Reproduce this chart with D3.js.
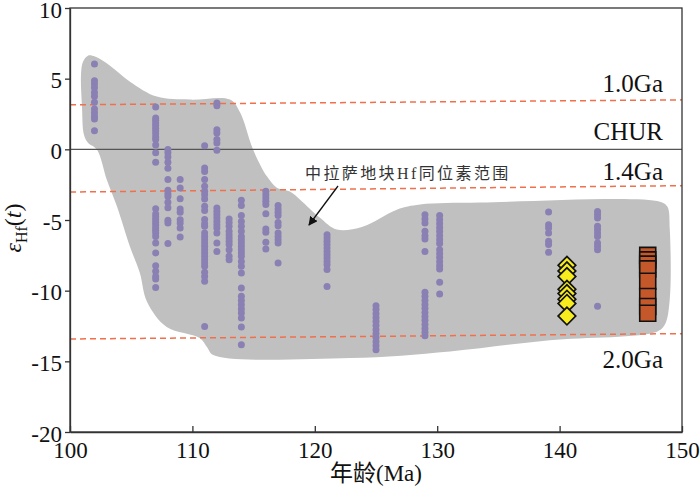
<!DOCTYPE html>
<html>
  <head>
    <meta charset="utf-8">
    <script src="https://cdnjs.cloudflare.com/ajax/libs/d3/7.8.5/d3.min.js"></script>
    <style>
      body { margin: 0; background: #fff; }
      svg { display: block; font-family: 'Liberation Serif', 'Noto Sans CJK SC', serif; }
      .axis path, .axis line { stroke: #333; stroke-width: 1.3; }
      .axis text { fill: #111; font-size: 23px; font-family: 'Liberation Serif', serif; }
    </style>
  </head>
  <body>
    <svg id="chart"></svg>

    <script>
      // tick values
      const xTicks = [100, 110, 120, 130, 140, 150];
      const yTicks = [-20, -15, -10, -5, 0, 5, 10];

      // zircon columns: age (Ma) and eHf(t) values
      const colAges = [102, 107, 108, 109, 111, 112, 113, 114, 116, 117, 121, 125, 129, 130.2, 139.1, 143.1];
      const colValues = [
        [6.04, 4.86, 4.63, 4.35, 4.03, 3.75, 3.33, 2.86, 2.58, 2.34, 2.15, 1.32],
        [3.0, 2.22, 2.05, 1.87, 1.68, 1.49, 1.3, 1.11, 0.88, 0.69, 0.31, -0.25, -0.92,
         -4.2, -4.57, -4.78, -4.98, -5.17, -5.35, -5.54, -5.73, -5.92, -6.16, -6.63, -7.33, -8.23, -8.63, -8.99, -9.17, -9.77],
        [-0.02, -0.25, -0.54, -0.92, -1.34, -2.14, -2.9, -3.14, -3.33, -3.75, -4.13, -5.02, -5.21, -6.67],
        [-2.14, -2.73, -3.49, -4.22, -4.46, -4.98, -5.21, -5.56, -6.2],
        [0.26, -1.32, -1.56, -2.14, -2.62, -2.97, -3.21, -3.51, -4.03, -4.32, -4.97, -5.26, -5.45, -5.92, -6.16, -6.39,
         -6.62, -6.86, -7.1, -7.33, -7.57, -7.81, -8.04, -8.28, -8.7, -8.99, -9.34, -12.53],
        [3.28, 3.09, 1.39, 1.16, 0.69, 0.45, -0.07, -4.15, -4.39, -4.62, -4.86, -5.1, -5.33, -5.56, -5.92, -6.62, -7.22],
        [-4.93, -5.17, -5.45, -5.8, -6.04, -6.27, -6.51, -6.74, -7.1, -7.57, -7.81],
        [-3.61, -3.98, -4.69, -5.1, -5.45, -5.8, -6.16, -6.39, -6.62, -6.86, -7.1, -7.33, -7.57, -7.93, -8.28, -8.75,
         -9.81, -10.4, -10.69, -10.99, -11.3, -11.58, -11.94, -12.57, -13.82],
        [-2.97, -3.21, -3.44, -3.68, -3.91, -4.55, -5.63, -5.87, -6.58, -7.05],
        [-3.98, -4.22, -4.46, -4.69, -5.17, -5.4, -5.92, -6.16, -6.39, -6.62, -8.04],
        [-6.04, -6.27, -6.51, -6.74, -6.98, -7.22, -7.45, -7.69, -7.93, -8.16, -8.51, -9.7],
        [-11.06, -11.34, -11.63, -11.91, -12.19, -12.47, -12.76, -13.04, -13.32, -13.61, -13.89, -14.18],
        [-4.62, -4.93, -5.21, -5.8, -6.11, -6.34, -7.22,
         -10.12, -10.4, -10.69, -10.97, -11.25, -11.54, -11.82, -12.1, -12.39, -12.67, -12.95, -13.19],
        [-4.69, -4.98, -5.26, -5.54, -5.82, -6.11, -6.39, -6.67, -7.1, -7.38, -7.66, -7.95, -8.23, -8.46, -9.41, -10.23],
        [-4.43, -5.33, -5.56, -5.92, -6.51, -6.74, -7.29],
        [-4.39, -4.62, -4.86, -5.45, -5.68, -5.92, -6.16, -6.62, -6.86, -7.1, -11.11]
      ];

      // yellow diamonds and orange boxes
      const diamondAge = 140.6;
      const diamondValues = [-8.2, -8.6, -9.0, -9.9, -10.2, -10.6, -10.9, -11.8];
      const boxAge = 147.2;
      const boxValues = [-7.5, -7.82, -8.12, -8.46, -9.33, -10.41, -11.12, -11.6];

      // model age reference lines
      const refLabels = ['1.0Ga', '1.4Ga', '2.0Ga'];
      const refStart = [3.15, -3.02, -13.42];
      const refEnd = [3.5, -2.57, -13.04];
      const refLabelY = [4.05, -2.15, -15.5];

      // central Lhasa envelope outline
      const envX = [100.98, 100.9, 101.06, 101.47, 102.04, 103.27, 104.9, 107.1, 109.8, 113.07, 113.9, 114.95, 116.1,
        116.9, 117.97, 118.8, 120.4, 121.8, 123.9, 126.7, 128.6, 133.5, 148.2, 148.8, 149.0, 149.0, 148.6, 147.96,
        139.2, 131.05, 122.9, 111.7, 111.2, 110.6, 107.9, 106.3, 105.7, 104.9, 103.84, 103.0, 102.2, 101.47, 101.14];
      const envY = [3.02, 5.29, 6.2, 6.63, 6.56, 5.92, 4.79, 3.73, 3.52, 3.52, 2.6, 0, -1.93,
        -2.71, -2.99, -3.56, -4.83, -5.68, -5.47, -4.27, -3.91, -3.77, -3.7, -4.05, -5.64, -10.6, -12.4, -12.9,
        -13.5, -14.3, -14.77, -14.55, -14.0, -13.35, -12.57, -10.8, -8.73, -6.89, -4.05, -2.14, -0.02, 0.47, 1.04];

      const W = 700, H = 494;
      const svg = d3.select('#chart').attr('width', W).attr('height', H);

      const x = d3.scaleLinear().domain([100, 150]).range([70, 682]);
      const y = d3.scaleLinear().domain([-20, 10]).range([432, 8]);

      // envelope
      const envPts = envX.map((v, i) => [x(v), y(envY[i])]);
      svg.append('path')
        .attr('d', d3.line().curve(d3.curveCatmullRomClosed.alpha(0.5))(envPts))
        .attr('fill', '#c0c0c0');

      // CHUR
      svg.append('line')
        .attr('x1', x(100)).attr('x2', x(150))
        .attr('y1', y(0)).attr('y2', y(0))
        .attr('stroke', '#555').attr('stroke-width', 1.2);

      // dashed model lines
      refLabels.forEach((lab, i) => {
        svg.append('line')
          .attr('x1', x(100)).attr('x2', x(150))
          .attr('y1', y(refStart[i])).attr('y2', y(refEnd[i]))
          .attr('stroke', '#f0704c').attr('stroke-width', 1.5)
          .attr('stroke-dasharray', '6,4');
        svg.append('text')
          .attr('x', 663).attr('y', y(refLabelY[i]))
          .attr('text-anchor', 'end')
          .style('font-size', '25px').style('fill', '#111')
          .text(lab);
      });
      svg.append('text')
        .attr('x', 663).attr('y', y(0.68))
        .attr('text-anchor', 'end')
        .style('font-size', '25px').style('fill', '#111')
        .text('CHUR');

      // zircon dots
      const dots = [];
      colAges.forEach((a, i) => colValues[i].forEach(v => dots.push([a, v])));
      svg.append('g').selectAll('circle')
        .data(dots)
        .enter().append('circle')
        .attr('cx', d => x(d[0]))
        .attr('cy', d => y(d[1]))
        .attr('r', 3.5)
        .attr('fill', '#8a80b3');

      // diamonds
      svg.append('g').selectAll('path')
        .data(diamondValues)
        .enter().append('path')
        .attr('d', d3.symbol().type(d3.symbolSquare).size(155))
        .attr('transform', d => 'translate(' + x(diamondAge) + ',' + y(d) + ') rotate(45)')
        .attr('fill', '#f7ec1e')
        .attr('stroke', '#111').attr('stroke-width', 1.7);

      // boxes
      svg.append('g').selectAll('path')
        .data(boxValues)
        .enter().append('path')
        .attr('d', d3.symbol().type(d3.symbolSquare).size(256))
        .attr('transform', d => 'translate(' + x(boxAge) + ',' + y(d) + ')')
        .attr('fill', '#c4582a')
        .attr('stroke', '#111').attr('stroke-width', 1.6);

      // annotation
      svg.append('text')
        .attr('x', 305).attr('y', 179)
        .style('font-size', '16px').style('letter-spacing', '2.4px').style('fill', '#333')
        .text('中拉萨地块Hf同位素范围');
      svg.append('defs').append('marker')
        .attr('id', 'arrow').attr('viewBox', '0 0 10 10')
        .attr('refX', 9).attr('refY', 5)
        .attr('markerWidth', 9).attr('markerHeight', 9)
        .attr('markerUnits', 'userSpaceOnUse')
        .attr('orient', 'auto')
        .append('path').attr('d', 'M0,0 L10,5 L0,10 z').attr('fill', '#111');
      svg.append('line')
        .attr('x1', 338).attr('y1', 186)
        .attr('x2', 309).attr('y2', 225)
        .attr('stroke', '#111').attr('stroke-width', 1.3)
        .attr('marker-end', 'url(#arrow)');

      // frame
      svg.append('rect')
        .attr('x', x(100)).attr('y', y(10))
        .attr('width', x(150) - x(100)).attr('height', y(-20) - y(10))
        .attr('fill', 'none').attr('stroke', '#333').attr('stroke-width', 1.3);

      // axes
      svg.append('g')
        .attr('class', 'axis')
        .attr('transform', 'translate(0,' + y(-20) + ')')
        .call(d3.axisBottom(x).tickValues(xTicks).tickSizeInner(-6).tickSizeOuter(0).tickPadding(10)
          .tickFormat(d => String(d)));
      svg.append('g')
        .attr('class', 'axis')
        .attr('transform', 'translate(' + x(100) + ',0)')
        .call(d3.axisLeft(y).tickValues(yTicks).tickSizeInner(5).tickSizeOuter(0).tickPadding(3)
          .tickFormat(d => String(d)))
        .selectAll('text').attr('dy', '0.4em');

      // axis titles
      svg.append('text')
        .attr('x', 376).attr('y', 481)
        .attr('text-anchor', 'middle')
        .style('font-size', '23px').style('fill', '#111')
        .text('年龄(Ma)');

      const yt = svg.append('text')
        .attr('transform', 'translate(21,228) rotate(-90)')
        .attr('text-anchor', 'middle')
        .style('font-size', '24px').style('fill', '#111');
      yt.append('tspan').style('font-style', 'italic').text('ε');
      yt.append('tspan').attr('dy', 6).style('font-size', '16px').text('Hf');
      yt.append('tspan').attr('dy', -6).text('(');
      yt.append('tspan').style('font-style', 'italic').text('t');
      yt.append('tspan').text(')');
    </script>
  </body>
</html>
